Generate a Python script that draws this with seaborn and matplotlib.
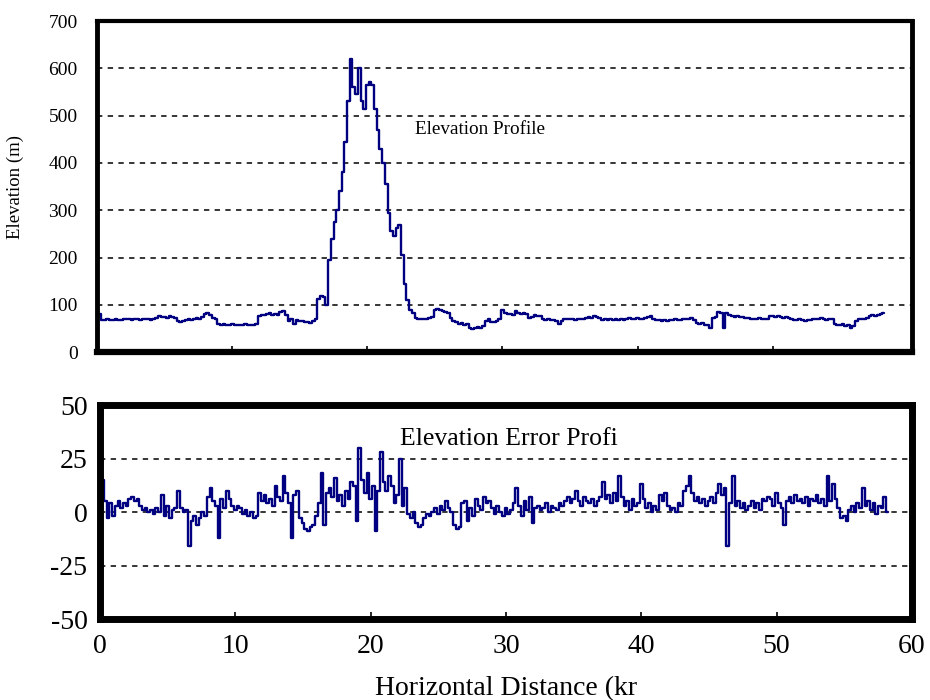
import numpy as np
import pandas as pd
import matplotlib
matplotlib.use("Agg")
import matplotlib.pyplot as plt
import seaborn as sns

STEP_KM = 0.2

# Elevation (m), one row = 2 km
elevation_m = [
    85, 80, 68, 68, 69, 68, 68, 69, 68, 68,
    70, 69, 69, 68, 70, 69, 68, 70, 71, 69,
    68, 70, 72, 76, 74, 75, 73, 77, 75, 72,
    66, 64, 66, 68, 70, 68, 71, 73, 70, 74,
    80, 82, 78, 72, 70, 60, 58, 59, 58, 58,
    59, 57, 58, 58, 57, 59, 58, 57, 58, 60,
    77, 79, 78, 80, 82, 79, 81, 78, 84, 86,
    78, 65, 70, 60, 68, 65, 66, 64, 63, 62,
    65, 70, 112, 118, 116, 100, 195, 240, 275, 300,
    340, 380, 445, 530, 620, 560, 545, 600, 530, 515,
    565, 572, 565, 515, 470, 430, 400, 355, 295, 255,
    245, 262, 268, 205, 145, 110, 90, 82, 72, 70,
    70, 71, 70, 72, 75, 90, 92, 88, 87, 85,
    82, 72, 66, 63, 60, 62, 58, 60, 52, 48,
    50, 54, 52, 56, 66, 69, 64, 63, 65, 70,
    88, 82, 80, 81, 79, 86, 82, 81, 82, 80,
    72, 75, 78, 76, 77, 70, 68, 69, 67, 68,
    66, 60, 66, 70, 69, 71, 70, 68, 71, 70,
    69, 72, 74, 73, 76, 74, 72, 68, 70, 67,
    69, 68, 70, 67, 69, 68, 71, 72, 70, 71,
    72, 70, 71, 72, 75, 76, 70, 68, 67, 66,
    68, 65, 68, 67, 69, 68, 67, 70, 71, 69,
    72, 68, 62, 60, 61, 58, 57, 50, 72, 75,
    84, 82, 52, 82, 78, 76, 75, 76, 74, 75,
    73, 72, 70, 71, 69, 72, 70, 71, 70, 76,
    77, 75, 76, 74, 73, 75, 72, 69, 68, 67,
    69, 68, 66, 68, 67, 70, 71, 69, 72, 70,
    68, 71, 69, 60, 58, 57, 60, 55, 58, 50,
    56, 66, 70, 69, 71, 72, 76, 78, 77, 79,
    80, 82,
]

# Elevation error (m), one row = 2 km
error_m = [
    0, 15, 5, -3, 4, -2, 3, 5, 2, 4,
    3, 6, 7, 5, 6, 3, 1, 2, 0, 1,
    -1, 2, 0, 8, -2, 3, -3, 1, 2, 10,
    2, 0, 1, -16, -4, -2, -6, -3, 0, -2,
    7, 11, 5, 3, -12, 6, 2, 10, 6, 3,
    1, 3, 2, -1, 1, -2, 0, -3, -2, 9,
    5, 8, 4, 6, 3, 12, 7, 5, 17, 9,
    4, -12, 8, 10, -3, -5, -8, -9, -7, -6,
    -2, 4, 18, -6, 9, 11, 7, 16, 5, 8,
    3, 10, 6, 14, 12, -4, 30, 15, 9, 18,
    6, 12, -9, 10, 28, 14, 10, 17, 12, 4,
    8, 25, 3, 11, -1, -3, 0, -5, -7, -6,
    -3, -1, -2, 0, 2, -1, 3, 1, 5, 2,
    0, -6, -8, -7, 4, 5, -4, 2, -2, 6,
    3, 1, 7, 4, 5, 2, -1, 3, 0, -2,
    2, -1, 1, 4, 11, 3, -2, 5, 1, 7,
    -5, 2, 3, 1, 2, 4, 0, 3, 2, 1,
    4, 3, 5, 7, 4, 6, 10, 5, 3, 7,
    5, 4, 6, 3, 5, 7, 14, 6, 8, 4,
    9, 5, 17, 7, 3, 5, 1, 6, 3, 4,
    13, 6, 2, 4, 0, 3, 1, 8, 5, 9,
    3, 1, 2, 0, 4, 3, 10, 12, 17, 9,
    5, 7, 4, 6, 3, 5, 7, 4, 9, 13,
    8, 11, -16, 4, 17, 3, 5, 2, 4, 1,
    3, 5, 2, 4, 1, 6, 5, 7, 6, 3,
    9, 4, 2, -6, 5, 7, 4, 8, 5, 6,
    4, 7, 3, 6, 5, 8, 4, 6, 3, 17,
    5, 13, 6, 2, -3, -2, -4, 1, 3, 0,
    4, 2, 11, 3, 5, 1, 4, -1, 3, 2,
    7, 0,
]

distance_km = np.round(np.arange(len(elevation_m)) * STEP_KM, 1)

elev_ticks = [0, 100, 200, 300, 400, 500, 600, 700]
err_ticks = [-50, -25, 0, 25, 50]
dist_ticks = [0, 10, 20, 30, 40, 50, 60]

LINE = "#000080"

sns.set_theme(style="white")
plt.rcParams['font.family'] = ['Liberation Serif', 'DejaVu Serif']
plt.rcParams['axes.unicode_minus'] = False

df = pd.DataFrame({"distance": distance_km, "elevation": elevation_m, "error": error_m})

fig = plt.figure(figsize=(9.3, 7), dpi=100)
ax1 = fig.add_axes([0.1043, 0.497, 0.8763, 0.473])
ax2 = fig.add_axes([0.1075, 0.1157, 0.873, 0.3057])

dash = (0, (3.5, 3.5))

# Top: elevation profile
sns.lineplot(data=df, x="distance", y="elevation", ax=ax1, color=LINE,
             lw=1.7, drawstyle="steps-mid")
ax1.set_xlim(0, 60.3)
ax1.set_ylim(0, 700)
ax1.set_yticks(elev_ticks)
ax1.set_xticks(dist_ticks[1:-1])
ax1.set_axisbelow(True)
ax1.yaxis.grid(True, linestyle=dash, color="black", lw=1.1)
ax1.tick_params(axis="x", direction="in", length=4, width=1.2, color="black",
                bottom=True, labelbottom=False)
ax1.tick_params(axis="y", length=0, pad=14, labelsize=14, labelcolor="black")
ax1.set_xlabel("")
ax1.set_ylabel("Elevation (m)", fontsize=13.5, color="black")
ax1.yaxis.set_label_coords(-0.0896, 0.5)
ax1.text(23.5, 470, "Elevation Profile", fontsize=13.8, va="center", color="black")
for side, w in {"top": 3, "left": 3.5, "bottom": 4.5, "right": 3.5}.items():
    ax1.spines[side].set_linewidth(w)
    ax1.spines[side].set_color("black")

# Bottom: elevation error profile
sns.lineplot(data=df, x="distance", y="error", ax=ax2, color=LINE,
             lw=1.7, drawstyle="steps-mid")
ax2.set_xlim(0, 60)
ax2.set_ylim(-50, 50)
ax2.set_yticks(err_ticks)
ax2.set_xticks(dist_ticks)
ax2.set_axisbelow(True)
ax2.yaxis.grid(True, linestyle=dash, color="black", lw=1.1)
ax2.tick_params(axis="x", direction="in", length=5, width=1.2, color="black",
                bottom=True, pad=11, labelsize=20, labelcolor="black")
ax2.tick_params(axis="y", length=0, pad=9, labelsize=20, labelcolor="black")
ax2.set_ylabel("")
ax2.set_xlabel("Horizontal Distance (kr", fontsize=20, color="black", labelpad=12)
ax2.text(22.2, 34, "Elevation Error Profi", fontsize=18.5, va="center", color="black")
for side in ["top", "left", "bottom", "right"]:
    ax2.spines[side].set_linewidth(5)
    ax2.spines[side].set_color("black")

plt.savefig("out.png", dpi=100)
